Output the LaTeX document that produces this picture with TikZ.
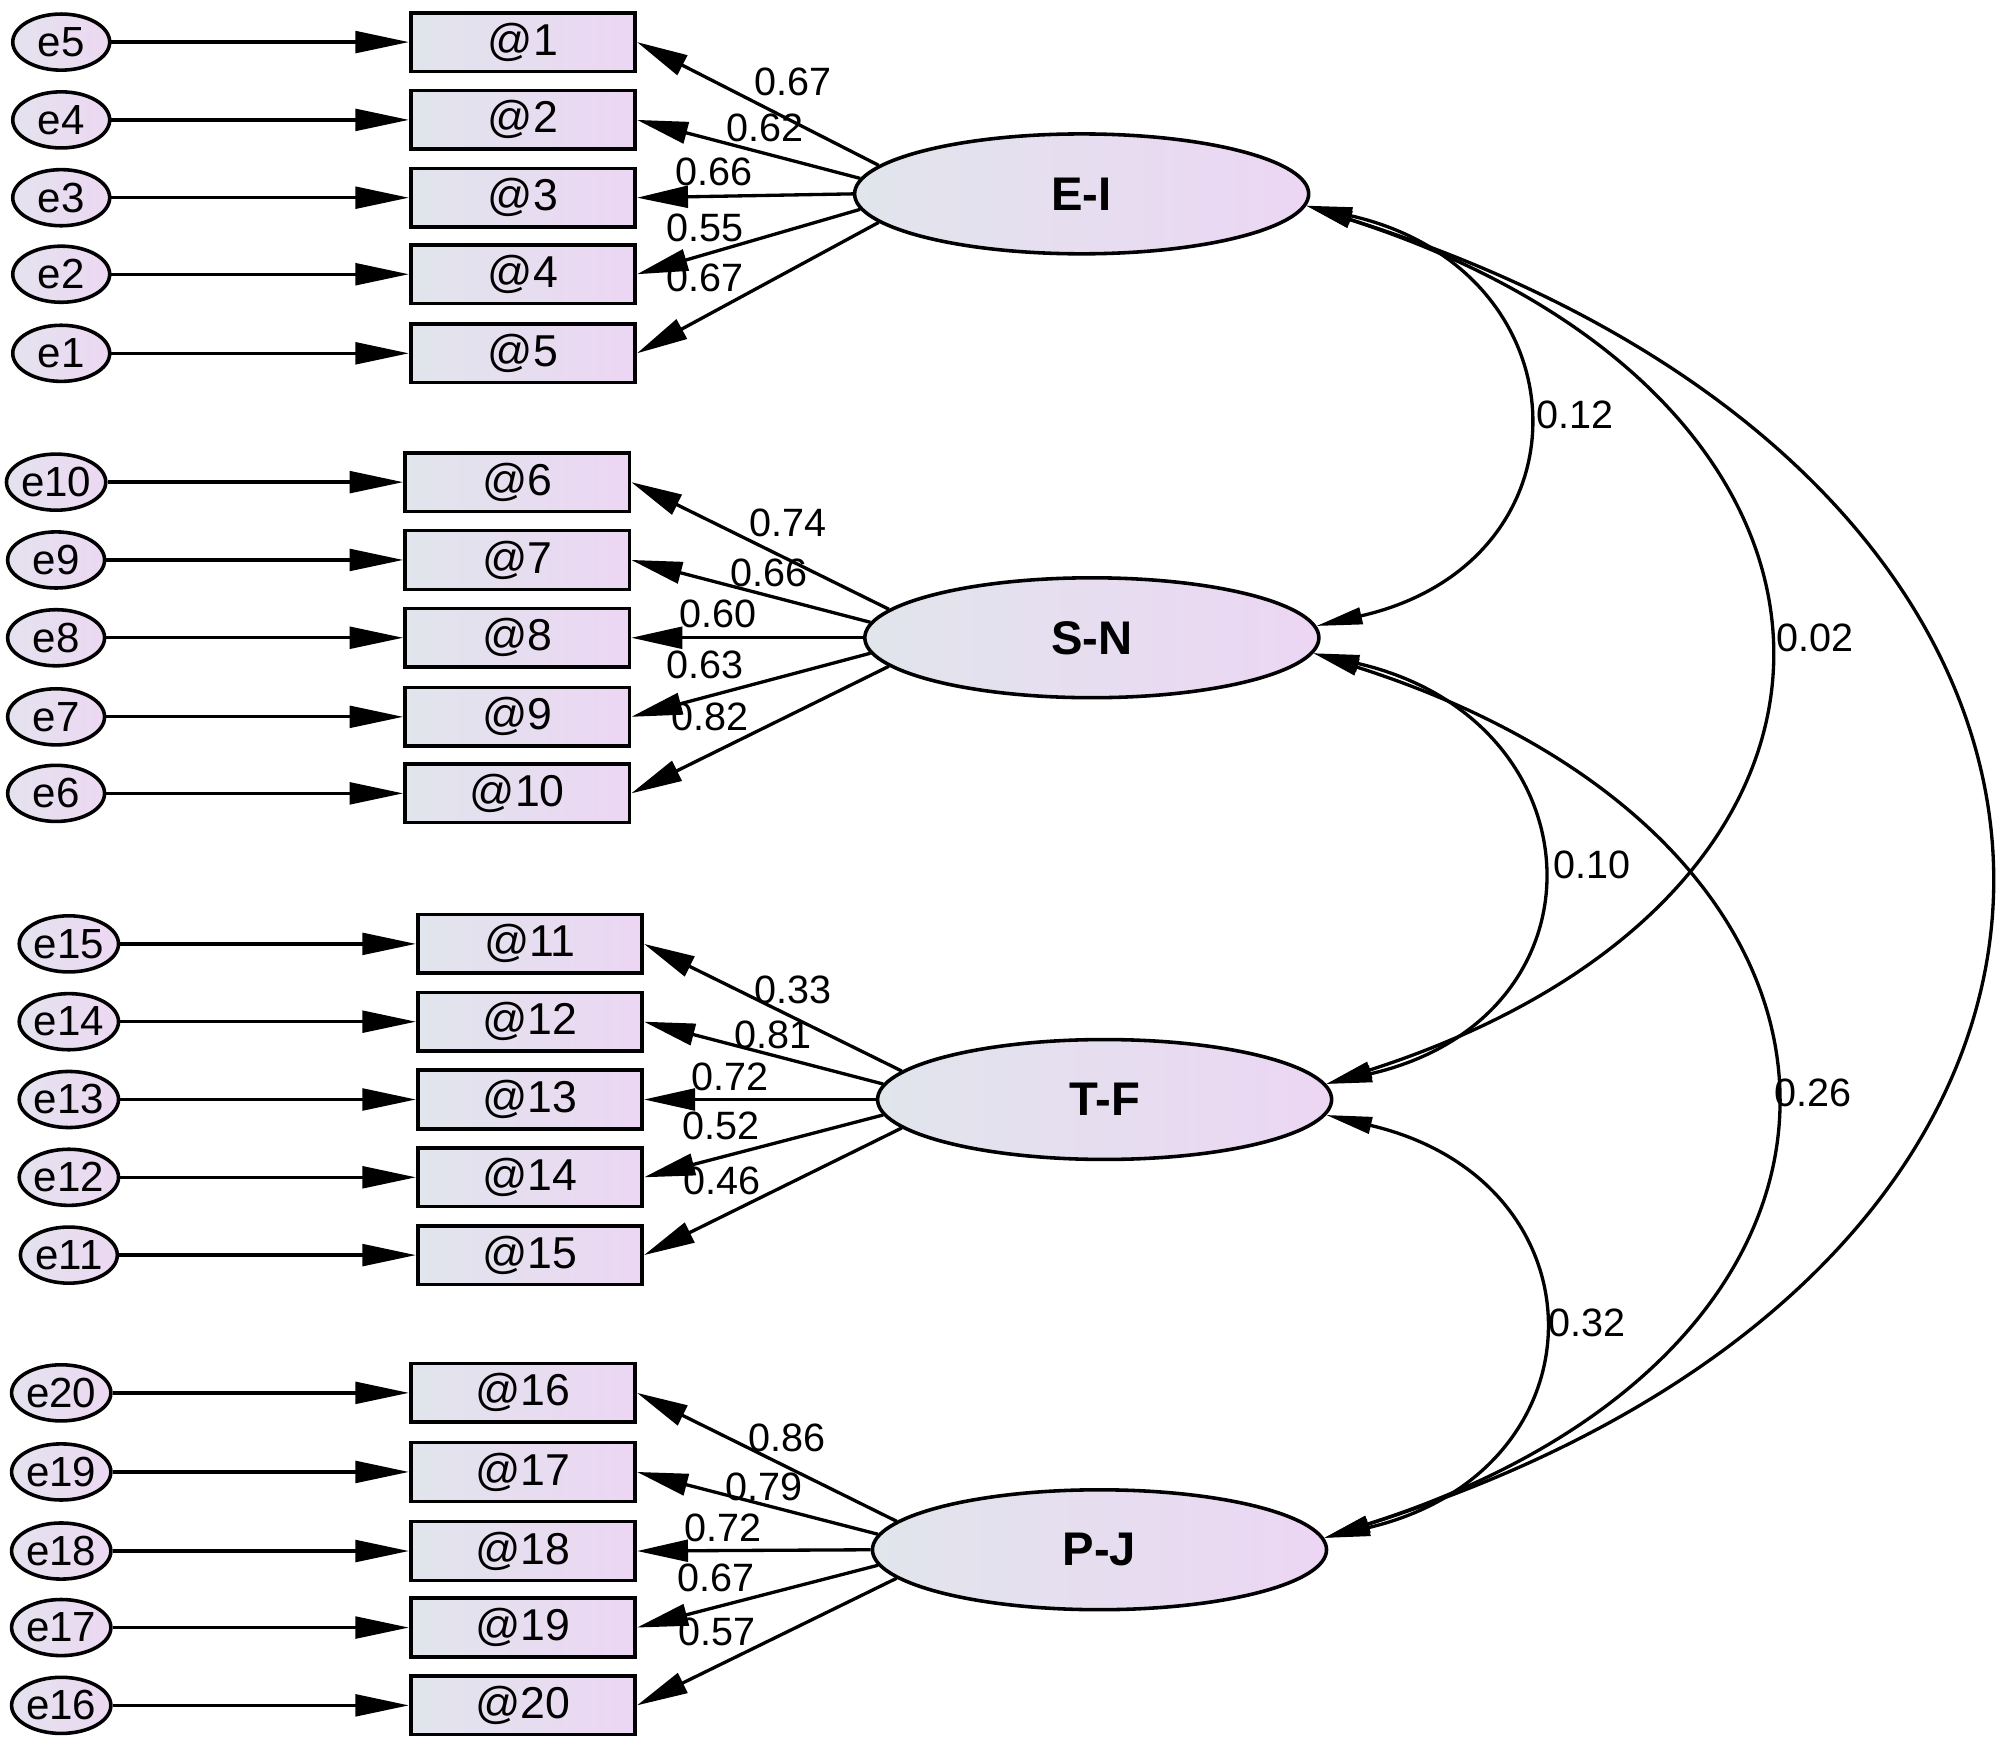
\documentclass[tikz,border=0pt]{standalone}
\usepackage{fontspec}
\setmainfont{Liberation Sans}
\usetikzlibrary{shapes.geometric,arrows.meta}
\definecolor{shadeL}{HTML}{E1E5EC}
\definecolor{shadeR}{HTML}{ECD6F3}
\definecolor{errL}{HTML}{E4E2EE}
\definecolor{errR}{HTML}{ECD8F2}
\tikzset{
 errnode/.style={ellipse, draw, line width=2.8pt, minimum width=76pt, minimum height=44pt, inner sep=0pt, left color=errL, right color=errR, font=\fontsize{33}{33}\selectfont},
 obsnode/.style={rectangle, draw, line width=2.8pt, minimum width=176pt, minimum height=46pt, inner sep=0pt, left color=shadeL, right color=shadeR, font=\fontsize{35}{35}\selectfont},
 latnode/.style={ellipse, draw, line width=2.8pt, minimum width=356pt, minimum height=94pt, inner sep=0pt, left color=shadeL, right color=shadeR, font=\bfseries\fontsize{37}{37}\selectfont},
 errarrow/.style={line width=2.6pt, -{Triangle[length=42pt,width=17pt]}},
 loadarrow/.style={line width=2.6pt, -{Triangle[length=40pt,width=17pt]}},
 covarrow/.style={line width=2.6pt, {Triangle[length=36pt,width=13pt]}-{Triangle[length=36pt,width=13pt]}},
 numlabel/.style={font=\fontsize{31}{31}\selectfont, inner sep=0pt},
}
\begin{document}
\begin{tikzpicture}[x=1pt,y=-1pt]
\useasboundingbox (0,0) rectangle (1568,1372);
% latent variables
\node[latnode] (EI) at (848,152) {E-I};
\node[latnode] (SN) at (856,500) {S-N};
\node[latnode] (TF) at (866,862) {T-F};
\node[latnode] (PJ) at (862,1215) {P-J};
% group 1
\foreach \en/\bn/\y in {5/1/33,4/2/94,3/3/155,2/4/215,1/5/277}{
  \node[errnode] (e\en) at (48,\y) {e\en};
  \node[obsnode] (b\bn) at (410,\y) {@\bn};
  \draw[errarrow] (e\en) -- (b\bn);
}
% group 2
\foreach \en/\bn/\y in {10/6/378,9/7/439,8/8/500,7/9/562,6/10/622}{
  \node[errnode] (e\en) at (44,\y) {e\en};
  \node[obsnode] (b\bn) at (405.5,\y) {@\bn};
  \draw[errarrow] (e\en) -- (b\bn);
}
% group 3
\foreach \en/\bn/\y in {15/11/740,14/12/801,13/13/862,12/14/923,11/15/984}{
  \node[errnode] (e\en) at (54,\y) {e\en};
  \node[obsnode] (b\bn) at (415.5,\y) {@\bn};
  \draw[errarrow] (e\en) -- (b\bn);
}
% group 4
\foreach \en/\bn/\y in {20/16/1092,19/17/1154,18/18/1216,17/19/1276,16/20/1337}{
  \node[errnode] (e\en) at (48,\y) {e\en};
  \node[obsnode] (b\bn) at (410,\y) {@\bn};
  \draw[errarrow] (e\en) -- (b\bn);
}
% loadings
\foreach \lat/\a/\b/\c/\d/\e in {EI/1/2/3/4/5, SN/6/7/8/9/10, TF/11/12/13/14/15, PJ/16/17/18/19/20}{
  \draw[loadarrow] (\lat.172) -- (b\a.east);
  \draw[loadarrow] (\lat.176) -- (b\b.east);
  \draw[loadarrow] (\lat.180) -- (b\c.east);
  \draw[loadarrow] (\lat.184) -- (b\d.east);
  \draw[loadarrow] (\lat.188) -- (b\e.east);
}
% covariances
\draw[covarrow] (EI.-3) .. controls +(220,50) and +(220,-50) .. (SN.3);
\draw[covarrow] (EI.-3) .. controls +(467,150) and +(467,-150) .. (TF.4);
\draw[covarrow] (EI.-3) .. controls +(698,220) and +(698,-220) .. (PJ.3);
\draw[covarrow] (SN.-4) .. controls +(226,52) and +(226,-52) .. (TF.4);
\draw[covarrow] (SN.-4) .. controls +(471,150) and +(471,-150) .. (PJ.3);
\draw[covarrow] (TF.-4) .. controls +(222,52) and +(222,-52) .. (PJ.3);
% loading labels
\node[numlabel] (l1) at (622,64) {0.67};
\node[numlabel] (l2) at (600,100) {0.62};
\node[numlabel] (l3) at (560,135) {0.66};
\node[numlabel] (l4) at (553,179) {0.55};
\node[numlabel] (l5) at (553,218) {0.67};
\node[numlabel] (l6) at (618,410) {0.74};
\node[numlabel] (l7) at (603,449) {0.66};
\node[numlabel] (l8) at (563,481) {0.60};
\node[numlabel] (l9) at (553,521) {0.63};
\node[numlabel] (l10) at (557,562) {0.82};
\node[numlabel] (l11) at (622,776) {0.33};
\node[numlabel] (l12) at (606,811) {0.81};
\node[numlabel] (l13) at (572,844) {0.72};
\node[numlabel] (l14) at (565,883) {0.52};
\node[numlabel] (l15) at (566,926) {0.46};
\node[numlabel] (l16) at (617,1127) {0.86};
\node[numlabel] (l17) at (599,1166) {0.79};
\node[numlabel] (l18) at (567,1198) {0.72};
\node[numlabel] (l19) at (561,1237) {0.67};
\node[numlabel] (l20) at (562,1279) {0.57};
% covariance labels
\node[numlabel] (c1) at (1235,325) {0.12};
\node[numlabel] (c2) at (1423,500) {0.02};
\node[numlabel] (c3) at (1248,678) {0.10};
\node[numlabel] (c4) at (1421,857) {0.26};
\node[numlabel] (c5) at (1244,1037) {0.32};
\end{tikzpicture}
\end{document}
